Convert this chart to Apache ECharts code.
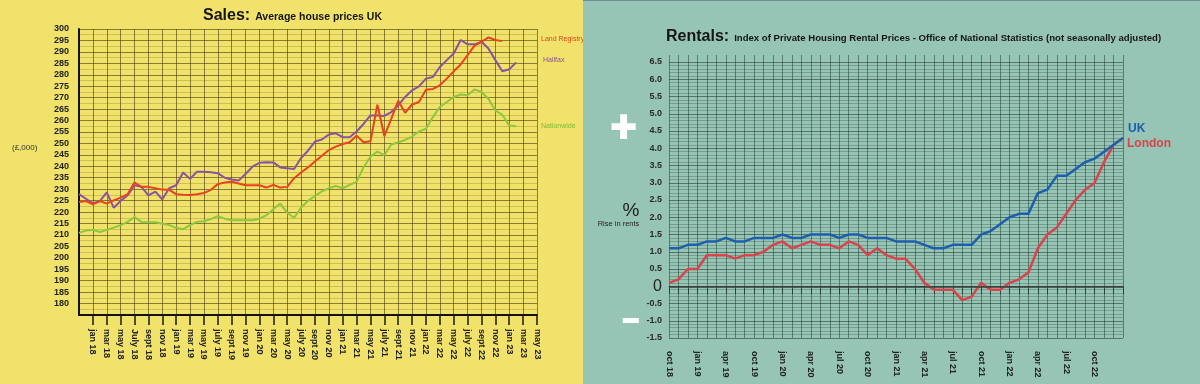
<!DOCTYPE html>
<html>
<head>
<meta charset="utf-8">
<script src="https://cdn.jsdelivr.net/npm/echarts@6/dist/echarts.min.js"></script>
<style>
html,body{margin:0;padding:0;width:1200px;height:384px;overflow:hidden;}
#sales{position:absolute;left:0;top:0;width:583px;height:384px;background:#f0e26a;}
#rent{position:absolute;left:583px;top:0;width:617px;height:384px;background:#97c5b5;border-top:1px solid #6d8f94;box-sizing:border-box;}
</style>
</head>
<body>
<div id="sales"></div>
<div id="rent"></div>
<script>
// ---------- Sales data (monthly, nov 17 .. may 23) ----------
const salesMonths = ["nov 17","dec 17","jan 18","feb 18","mar 18","apr 18","may 18","jun 18","July 18","aug 18","sept 18","oct 18","nov 18","dec 18",
 "jan 19","feb 19","mar 19","apr 19","may 19","jun 19","july 19","aug 19","sept 19","oct 19","nov 19","dec 19",
 "jan 20","feb 20","mar 20","apr 20","may 20","jun 20","july 20","aug 20","sept 20","oct 20","nov 20","dec 20",
 "jan 21","feb 21","mar 21","apr 21","may 21","jun 21","july 21","aug 21","sept 21","oct 21","nov 21","dec 21",
 "jan 22","feb 22","mar 22","apr 22","may 22","jun 22","july 22","aug 22","sept 22","oct 22","nov 22","dec 22",
 "jan 23","feb 23","mar 23","apr 23","may 23"];
const landRegistry = [224.4,224.8,223.4,224.8,223.7,225.1,226.3,227.8,232.9,231,231,230.4,229.8,229.7,227.8,227.6,227.5,227.8,228.3,229.7,
 232.2,232.9,233.2,232.5,231.7,231.7,231.7,230.7,231.9,230.7,231,234.8,237.3,239.5,242.1,244.6,247.1,248.6,249.7,250.5,
 253.4,250.5,250.9,266.9,253.2,260.8,268.6,263.4,267,268.1,273.5,273.8,275.4,278.3,281.5,284.5,288.6,292.7,294.4,296.3,295.2,294.7];
const halifax = [227.8,225.8,223.8,224.8,228.6,221.9,224.8,227.3,231.7,231,227.3,228.9,225.6,230.4,231.7,237.3,234.5,237.6,237.6,237.4,
 237,235,234.2,233.8,236.6,239.8,241.5,241.8,241.7,239.5,239.1,238.8,243.6,246.8,250.8,251.7,253.9,254.4,252.7,252.7,
 255.2,258.5,262.2,262.2,262,263.7,266.6,270.3,273.2,274.9,278.3,279,283.4,286.4,289.3,295.2,293.3,293.3,294.4,291.5,286.4,281.5,282.4,285.4];
const nationwide = [210.9,211.9,212.2,211.3,212.2,213.2,214.3,215.7,217.8,215.7,215.5,215.5,214.9,214.3,213.1,212.5,214.3,215.7,216,216.9,
 218.2,217.1,216.4,216.4,216.4,216.4,217.1,218.6,221.2,223.7,219.7,217.5,221.9,224.9,227,229,230.4,231.4,230.4,231.9,
 233.2,239.5,244.2,246.4,244.9,249.5,250.5,251.5,253,255.2,256.4,261.5,265.9,268.1,270.3,271.4,271,273.6,272.5,269.5,264.4,262.5,257.8,257.5];
const salesYMin = 175, salesYMax = 300, salesYStep = 5;

// ---------- Rentals data (monthly, oct 18 .. oct 22) ----------
const rentMonths = ["oct 18","nov 18","dec 18","jan 19","feb 19","mar 19","apr 19","may 19","jun 19","jul 19","aug 19","sep 19",
 "oct 19","nov 19","dec 19","jan 20","feb 20","mar 20","apr 20","may 20","jun 20","jul 20","aug 20","sep 20",
 "oct 20","nov 20","dec 20","jan 21","feb 21","mar 21","apr 21","may 21","jun 21","jul 21","aug 21","sep 21",
 "oct 21","nov 21","dec 21","jan 22","feb 22","mar 22","apr 22","may 22","jun 22","jul 22","aug 22","sep 22","oct 22"];
const rentTickLabels = ["oct 18","jan 19","apr 19","oct 19","jan 20","apr 20","jul 20","oct 20","jan 21","apr 21","jul 21","oct 21","jan 22","apr 22","jul 22","oct 22",""];
const ukRent = [1.1,1.1,1.2,1.2,1.3,1.3,1.4,1.3,1.3,1.4,1.4,1.4,1.5,1.4,1.4,1.5,1.5,1.5,1.4,1.5,1.5,1.4,1.4,1.4,1.3,1.3,1.3,1.2,1.1,1.1,
 1.2,1.2,1.2,1.5,1.6,1.8,2.0,2.1,2.1,2.7,2.8,3.2,3.2,3.4,3.6,3.7,3.9,4.1,4.3];
const londonRent = [0.1,0.2,0.5,0.5,0.9,0.9,0.9,0.8,0.9,0.9,1.0,1.2,1.3,1.1,1.2,1.3,1.2,1.2,1.1,1.3,1.2,0.9,1.1,0.9,0.8,0.8,0.5,0.1,-0.1,-0.1,
 -0.1,-0.4,-0.3,0.1,-0.1,-0.1,0.1,0.2,0.4,1.1,1.5,1.7,2.1,2.5,2.8,3.0,3.6,4.1,4.3];
const rentYMin = -1.5, rentYMax = 6.5, rentYStep = 0.5;

const FONT = '"Liberation Sans", Arial, Helvetica, sans-serif';

// ---------- Sales chart ----------
const everyTwo = (i) => i % 2 === 0;
const everyTwoNoFirst = (i) => i > 0 && i % 2 === 0;
const sales = echarts.init(document.getElementById('sales'), null, {renderer: 'canvas'});
sales.setOption({
  animation: false,
  textStyle: {fontFamily: FONT},
  title: {
    left: 203, top: 7, padding: 0,
    text: '{a|Sales:} {b|Average house prices UK}',
    textStyle: {rich: {
      a: {fontSize: 16, fontWeight: 'bold', color: '#151515', fontFamily: FONT},
      b: {fontSize: 10.5, color: '#151515', fontFamily: FONT, padding: [3, 0, 0, 0]}
    }}
  },
  grid: {left: 79, right: 46, top: 29, bottom: 69},
  xAxis: {
    type: 'category', boundaryGap: false, data: salesMonths,
    axisLine: {lineStyle: {color: '#111', width: 2}},
    axisTick: {interval: everyTwoNoFirst, length: 10, lineStyle: {color: '#1a1a1a', width: 1.5}},
    axisLabel: {interval: everyTwoNoFirst, rotate: -90, margin: 14, fontSize: 9, fontWeight: 'bold', color: '#222', fontFamily: FONT},
    splitLine: {show: true, interval: everyTwo, lineStyle: {color: 'rgba(70,58,10,0.6)', width: 1}}
  },
  yAxis: {
    type: 'value', min: salesYMin, max: salesYMax, interval: salesYStep,
    axisLine: {show: true, lineStyle: {color: '#111', width: 2}},
    axisTick: {show: false},
    minorTick: {show: false, splitNumber: 2},
    axisLabel: {showMinLabel: false, margin: 10, fontSize: 9, fontWeight: 'bold', color: '#222', fontFamily: FONT},
    splitLine: {lineStyle: {color: 'rgba(70,58,10,0.6)', width: 1}},
    minorSplitLine: {show: true, lineStyle: {color: 'rgba(70,58,10,0.2)', width: 1}}
  },
  series: [
    {name: 'Land Registry', type: 'line', data: landRegistry, symbol: 'none', lineStyle: {color: '#e8431e', width: 2}, z: 4},
    {name: 'Halifax', type: 'line', data: halifax, symbol: 'none', lineStyle: {color: '#8b52a1', width: 2}, z: 3},
    {name: 'Nationwide', type: 'line', data: nationwide, symbol: 'none', lineStyle: {color: '#8dc63f', width: 2}, z: 3}
  ],
  graphic: [
    {type: 'text', left: 12, top: 144, style: {text: '(£,000)', fontSize: 8, fill: '#333', fontFamily: FONT}},
    {type: 'text', left: 541, top: 36, style: {text: 'Land Registry', fontSize: 7, fill: '#e4471e', fontFamily: FONT}},
    {type: 'text', left: 543, top: 57, style: {text: 'Halifax', fontSize: 7, fill: '#8b4f96', fontFamily: FONT}},
    {type: 'text', left: 541, top: 123, style: {text: 'Nationwide', fontSize: 7, fill: '#7dba33', fontFamily: FONT}}
  ]
});

// ---------- Rentals chart ----------
const rent = echarts.init(document.getElementById('rent'), null, {renderer: 'canvas'});
rent.setOption({
  animation: false,
  textStyle: {fontFamily: FONT},
  title: {
    left: 83, top: 27, padding: 0,
    text: '{a|Rentals:} {b|Index of Private Housing Rental Prices - Office of National Statistics (not seasonally adjusted)}',
    textStyle: {rich: {
      a: {fontSize: 16, fontWeight: 'bold', color: '#151515', fontFamily: FONT},
      b: {fontSize: 9.6, color: '#151515', fontFamily: FONT, padding: [3, 0, 0, 0]}
    }}
  },
  grid: {left: 86, right: 77, top: 61, bottom: 46},
  xAxis: [{
    type: 'category', boundaryGap: false, data: rentMonths,
    axisLine: {show: true, lineStyle: {color: '#35524a', width: 1}},
    axisTick: {show: true, interval: 0, length: 8, lineStyle: {color: '#2b463e', width: 1}},
    axisLabel: {interval: 2, rotate: -90, margin: 13, fontSize: 9, fontWeight: 'bold', color: '#222', fontFamily: FONT,
      formatter: (v, i) => rentTickLabels[i / 3] || ''},
    splitLine: {show: true, interval: 0, lineStyle: {color: 'rgba(25,55,45,0.5)', width: 1}}
  }, {
    type: 'category', boundaryGap: false, data: rentMonths, position: 'top',
    axisLine: {show: false},
    axisTick: {show: true, interval: 0, length: 7, lineStyle: {color: 'rgba(25,55,45,0.5)', width: 1}},
    axisLabel: {show: false}, splitLine: {show: false}
  }],
  yAxis: {
    type: 'value', min: rentYMin, max: rentYMax, interval: rentYStep,
    axisLine: {show: false}, axisTick: {show: false},
    minorTick: {show: false, splitNumber: 5},
    axisLabel: {margin: 7, fontSize: 9, fontWeight: 'bold', color: '#2a2a2a', fontFamily: FONT,
      formatter: (v) => v === 0 ? '{z|0}' : v.toFixed(1),
      rich: {z: {fontSize: 16, fontWeight: 'normal', color: '#222', fontFamily: FONT}}},
    splitLine: {lineStyle: {color: 'rgba(25,50,42,0.55)', width: 1}},
    minorSplitLine: {show: true, lineStyle: {color: 'rgba(25,55,45,0.27)', width: 1}}
  },
  series: [
    {name: 'UK', type: 'line', data: ukRent, symbol: 'none', lineStyle: {color: '#1d5ead', width: 2.5}, z: 4,
      endLabel: {show: true, formatter: '{a}', offset: [0, -9], distance: 5, fontSize: 12, fontWeight: 'bold', color: '#1d5ead', fontFamily: FONT},
      markLine: {silent: true, symbol: 'none', label: {show: false}, data: [{yAxis: 0}],
        lineStyle: {color: '#3a3f3c', width: 1.5, type: 'solid'}}},
    {name: 'London', type: 'line', data: londonRent, symbol: 'none', lineStyle: {color: '#d9434c', width: 2.5}, z: 3,
      endLabel: {show: true, formatter: '{a}', offset: [0, 6], distance: 4, fontSize: 12, fontWeight: 'bold', color: '#d9434c', fontFamily: FONT}}
  ],
  graphic: [
    {type: 'text', x: 40.5, y: 129, style: {text: '+', fontSize: 44, fontWeight: 'bold', fill: '#fff', stroke: '#fff', lineWidth: 2, align: 'center', verticalAlign: 'middle', fontFamily: FONT}},
    {type: 'text', x: 48, y: 210, style: {text: '%', fontSize: 19, fill: '#222', align: 'center', verticalAlign: 'middle', fontFamily: FONT}},
    {type: 'text', x: 35.5, y: 222.5, style: {text: 'Rise in rents', fontSize: 7.5, fill: '#222', align: 'center', verticalAlign: 'middle', fontFamily: FONT}},
    {type: 'text', x: 48, y: 321.5, style: {text: '−', fontSize: 28, fontWeight: 'bold', fill: '#fff', stroke: '#fff', lineWidth: 2, align: 'center', verticalAlign: 'middle', fontFamily: FONT}}
  ]
});
</script>
</body>
</html>
